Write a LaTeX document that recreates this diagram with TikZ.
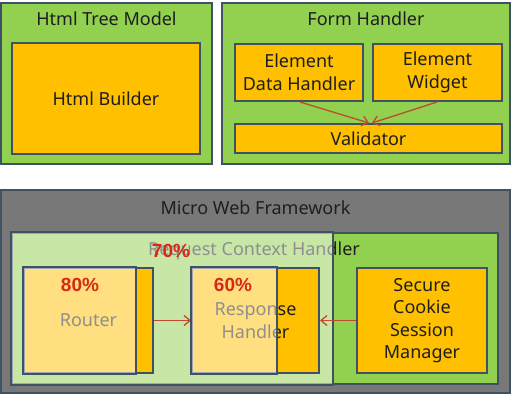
\documentclass[tikz,border=0pt]{standalone}
\usepackage{fontspec}
\setmainfont{Noto Sans}
\newfontfamily\pctfont{Liberation Sans}
\usetikzlibrary{arrows.meta,positioning}
\definecolor{leaf}{RGB}{146,208,80}
\definecolor{amber}{RGB}{255,192,0}
\definecolor{slate}{RGB}{120,120,120}
\definecolor{edge}{RGB}{62,82,100}
\definecolor{wire}{RGB}{190,75,45}
\definecolor{alarm}{RGB}{215,40,25}
\definecolor{ink}{RGB}{30,30,30}
\newcommand{\boxfont}{\fontsize{18}{22.5}\selectfont}
\tikzset{
  >={Straight Barb[length=6pt,width=10pt]},
  group/.style={draw=edge,fill=#1,line width=2pt,inner sep=0pt},
  group/.default=leaf,
  part/.style={draw=edge,fill=amber,line width=2pt,align=center,text=ink,font=\boxfont},
  done/.style={draw=edge,line width=2pt,fill=white,fill opacity=0.5},
  title/.style={text=ink,font=\boxfont},
  pct/.style={text=alarm,font=\pctfont\fontsize{19}{22}\selectfont\bfseries},
  link/.style={->,draw=wire,line width=1.3pt},
}
\begin{document}
\begin{tikzpicture}[x=1pt,y=-1pt]
    \useasboundingbox[fill=white] (0,0) rectangle (511,401);
    % upper row
    \node[group,minimum width=211pt,minimum height=161pt] (htm) at (106.5,83.5) {};
    \node[title] (htmT) at ([yshift=-16.5pt]htm.north) {Html Tree Model};
    \node[part,minimum width=188pt,minimum height=111pt] (hb) at (106,98.5) {Html Builder};
    \node[group,minimum width=288pt,minimum height=161pt] (fh) at (366,83.5) {};
    \node[title] (fhT) at ([yshift=-16.5pt]fh.north) {Form Handler};
    \node[part,minimum width=128pt,minimum height=57pt] (edh) at (299,72.5) {Element\\Data Handler};
    \node[part,minimum width=129pt,minimum height=57pt] (ew) at (437.5,72.5) {Element\\Widget};
    \node[part,minimum width=267pt,minimum height=29pt] (val) at (368.5,138.5) {Validator};
    \draw[link] ([xshift=1pt]edh.south) -- ([xshift=0.5pt]val.north);
    \draw[link] ([xshift=-0.5pt]ew.south) -- ([xshift=3.5pt]val.north);
    % framework
    \node[group=slate,minimum width=509pt,minimum height=203pt] (mwf) at (255.5,291.5) {};
    \node[title] (mwfT) at ([yshift=-19pt]mwf.north) {Micro Web Framework};
    \node[group,minimum width=486pt,minimum height=151pt] (rch) at (255,308.5) {};
    \node[title] (rchT) at ([yshift=-18.5pt,xshift=-1pt]rch.north) {Request Context Handler};
    \draw[done] (rch.north west) rectangle (333,0 |- rch.south);
    \node[part,minimum width=129pt,minimum height=105pt] (router) at (88.5,320.5) {Router};
    \node[part,minimum width=127pt,minimum height=105pt] (resp) at (255.5,320.5) {Response\\Handler};
    \node[part,minimum width=130pt,minimum height=105pt] (scsm) at (422,320.5) {Secure\\Cookie\\Session\\Manager};
    \draw[link] (router.east) -- (resp.west);
    \draw[link] (scsm.west) -- (resp.east);
    % progress
    \foreach \n/\x in {router/136,resp/277}
      \draw[done] (\n.north west) rectangle (\x,0 |- \n.south);
    \node[pct] (rchP) at (171,251) {70\%};
    \node[pct] (routerP) at (80,285) {80\%};
    \node[pct] (respP) at (233,285) {60\%};
  \end{tikzpicture}
\end{document}
